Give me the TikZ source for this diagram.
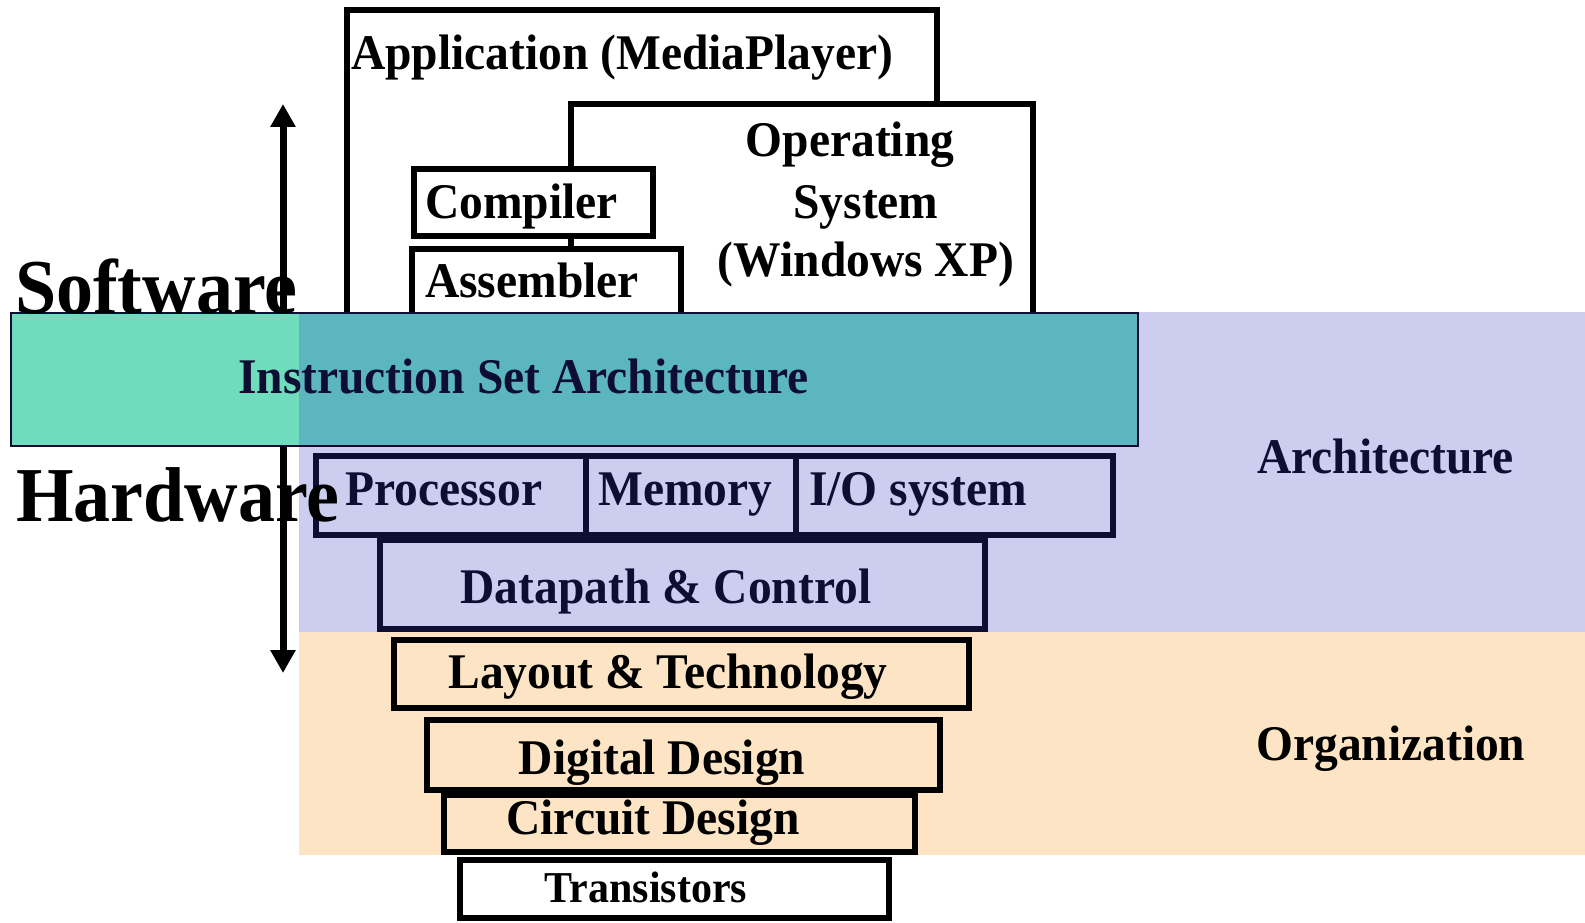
\documentclass[tikz,border=0pt]{standalone}
\usepackage{fontspec}
\usepackage{graphicx}
\setmainfont{Liberation Serif}
\usetikzlibrary{arrows.meta}
\definecolor{navy}{HTML}{0E0E33}
\definecolor{lav}{HTML}{CDCDF0}
\definecolor{peach}{HTML}{FDE4C4}
\definecolor{mint}{HTML}{70DCBE}
\definecolor{teal2}{HTML}{5CB6C0}
% slightly taller lettering
\newcommand\vstr[1]{\scalebox{1}[1.05]{#1}}
\tikzset{
  txt/.style={inner sep=0pt, font=\fontsize{47.5}{57}\selectfont\bfseries},
  smalltxt/.style={inner sep=0pt, font=\fontsize{42}{50}\selectfont\bfseries},
  bigtxt/.style={inner sep=0pt, font=\fontsize{74}{88}\selectfont\bfseries},
  swbox/.style={draw=black, line width=5.5pt, fill=white},
  hwbox/.style={draw=navy, line width=6pt, fill=lav},
  orgbox/.style={draw=black, line width=6pt, fill=peach},
  bigtip/.tip={Triangle[width=24pt,length=23pt]},
}
\begin{document}
\begin{tikzpicture}[x=1pt,y=-1pt]
\useasboundingbox (0,0) rectangle (1585,923);

% coloured bands: architecture and organization
\fill[lav] (299,312) rectangle (1585,632);
\fill[peach] (299,632) rectangle (1585,855);

% software stack
\path[swbox] (347,10) rectangle (937,340);
\path[swbox] (571,104) rectangle (1033,340);
\path[swbox] (414,169) rectangle (653,236);
\path[swbox] (412,249) rectangle (681,340);

\node[txt, anchor=base west] (app) at (351,70) {\vstr{Application (MediaPlayer)}};
\node[txt, anchor=base] (os1) at (850,157) {\vstr{Operating}};
\node[txt, anchor=base] (os2) at (866,218) {\vstr{System}};
\node[txt, anchor=base] (os3) at (866,276) {\vstr{(Windows XP)}};
\node[txt, anchor=base west] (comp) at (425,218) {\vstr{Compiler}};
\node[txt, anchor=base west] (asm) at (425,297) {\vstr{Assembler}};

% software / hardware double arrow
\coordinate (swtip) at (283,104);
\coordinate (hwtip) at (283,673);
\draw[line width=7pt, bigtip-bigtip] (swtip) -- (hwtip);

% instruction set architecture band
\fill[mint] (11,313) rectangle (299,446);
\fill[teal2] (299,313) rectangle (1138,446);
\draw[navy, line width=2.5pt] (11,313) rectangle (1138,446);
\node[txt, anchor=base west, text=navy] (isa) at (238,393) {\vstr{Instruction Set Architecture}};

\node[bigtxt, anchor=base west] (sw) at (15,313) {\vstr{Software}};

% hardware blocks
\path[hwbox] (316,456) rectangle (586,535);
\path[hwbox] (586,456) rectangle (796,535);
\path[hwbox] (796,456) rectangle (1113,535);
\path[hwbox] (380,540) rectangle (985,629);
\node[txt, anchor=base west, text=navy] (proc) at (345,505) {\vstr{Processor}};
\node[txt, anchor=base west, text=navy] (mem) at (598,505) {\vstr{Memory}};
\node[txt, anchor=base west, text=navy] (io) at (809,505) {\vstr{I/O system}};
\node[txt, anchor=base, text=navy] (dp) at (666,603) {\vstr{Datapath \& Control}};

\node[bigtxt, anchor=base west] (hw) at (16,521) {\vstr{Hardware}};

% implementation levels
\path[orgbox] (394,640) rectangle (969,708);
\path[orgbox] (427,720) rectangle (940,790);
\path[orgbox] (444,795) rectangle (915,852);
\path[swbox] (460,860) rectangle (889,918);
\node[txt, anchor=base] (lay) at (668,688) {\vstr{Layout \& Technology}};
\node[txt, anchor=base] (dig) at (662,774) {\vstr{Digital Design}};
\node[txt, anchor=base] (circ) at (653,834) {\vstr{Circuit Design}};
\node[smalltxt, anchor=base] (tr) at (646,902) {\vstr{Transistors}};

% band labels
\node[txt, anchor=base west, text=navy] (arch) at (1257,473) {\vstr{Architecture}};
\node[txt, anchor=base west] (org) at (1256,760) {\vstr{Organization}};
\end{tikzpicture}
\end{document}
